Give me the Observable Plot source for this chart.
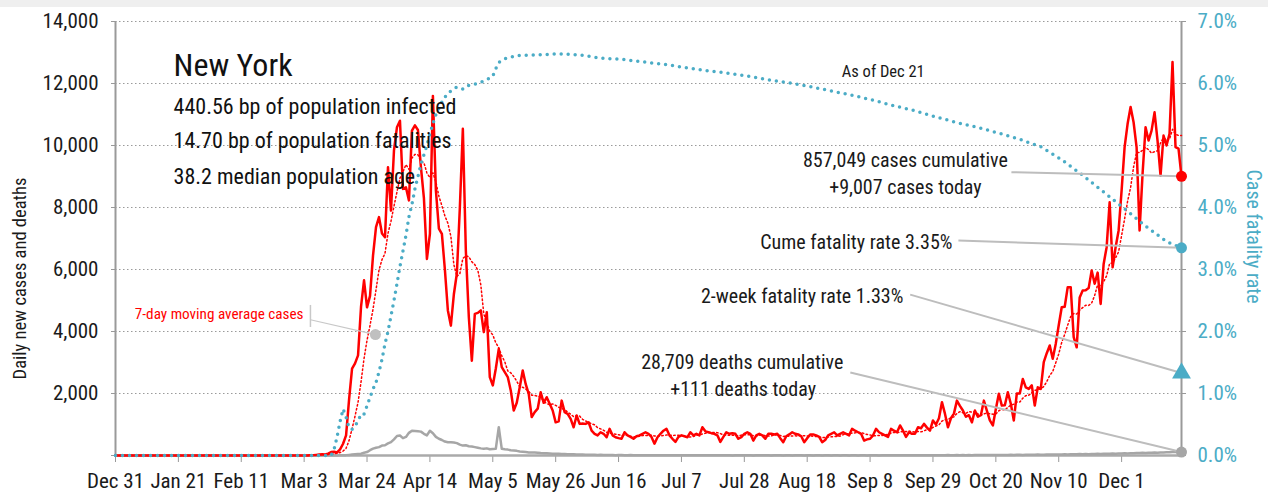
<!DOCTYPE html>
<html><head><meta charset="utf-8">
<script src="https://cdn.jsdelivr.net/npm/d3@7"></script>
<script src="https://cdn.jsdelivr.net/npm/@observablehq/plot@0.6"></script>
<style>
body{margin:0;background:#fff;}
#chart{position:relative;width:1268px;height:492px;}
#band{position:absolute;left:0;top:0;width:1268px;height:7px;background:#efefef;}
</style></head><body>
<div id="chart"></div><div id="band"></div>
<script>
// ---------- data ----------
const startDate = new Date(Date.UTC(2019, 11, 31));
const endDate = new Date(Date.UTC(2020, 11, 21));
const stateName = "New York";
const statLines = ["440.56 bp of population infected", "14.70 bp of population fatalities", "38.2 median population age"];
const cumulativeCases = 857049;
const cumulativeDeaths = 28709;
const cumeFatalityRate = 3.35;
const twoWeekFatalityRate = 1.33;

// daily new cases, one value per day from Dec 31
const dailyCases = [
0,0,0,0,0,0,0,0,0,0,
0,0,0,0,0,0,0,0,0,0,
0,0,0,0,0,0,0,0,0,0,
0,0,0,0,0,0,0,0,0,0,
0,0,0,0,0,0,0,0,0,0,
0,0,0,0,0,0,0,0,0,0,
0,0,1,0,2,10,12,20,30,40,
35,60,110,120,100,200,380,650,1800,2800,
2970,3230,4800,5650,4780,5150,6450,7370,7690,7160,
7040,9300,7900,9840,10590,10800,8600,8650,8230,10480,
10650,10500,9300,8300,6340,7150,11600,8550,7320,7150,
6000,4680,4190,5200,5870,8000,10540,6610,4460,3060,
4570,4600,4680,3980,4620,2530,2260,2800,3440,2850,
2690,2530,2100,1450,1700,2200,2740,2300,1990,1240,
1400,1510,2040,1700,1880,1670,1450,1070,1100,1770,
1400,1340,1180,910,1290,1020,1030,1020,1070,800,
700,650,750,700,590,860,650,590,560,540,
750,650,600,540,620,650,700,750,700,600,
380,590,700,800,860,650,540,440,600,650,
620,590,750,650,700,650,910,780,750,720,
700,650,440,600,750,700,720,700,540,590,
700,750,700,480,650,700,650,540,700,700,
680,700,560,430,620,680,750,700,680,620,
430,560,680,680,650,600,430,500,650,700,
750,650,700,750,700,650,860,800,750,700,
480,520,540,650,860,750,700,650,600,860,
800,750,970,800,600,750,700,700,910,880,
1020,900,800,1130,1000,1200,1720,1350,910,1200,
1350,1770,1600,1450,1250,1300,1070,1450,1250,1300,
1770,1450,1130,970,1500,1990,1610,1620,2040,1670,
1130,2000,2000,2470,2200,2150,2260,1610,2200,2150,
3010,3300,3550,3120,3600,4200,4780,4800,5430,5430,
3820,3490,5100,5320,5330,5400,5970,5540,5900,4890,
6180,6720,8170,6070,6720,7260,8550,9950,10700,11240,
10750,9950,7260,9090,10590,10160,10480,11070,10160,9030,
10320,10000,10380,12690,9950,9900,9007
];

// daily new deaths, one value per day from Dec 31
const dailyDeaths = [
0,0,0,0,0,0,0,0,0,0,
0,0,0,0,0,0,0,0,0,0,
0,0,0,0,0,0,0,0,0,0,
0,0,0,0,0,0,0,0,0,0,
0,0,0,0,0,0,0,0,0,0,
0,0,0,0,0,0,0,0,0,0,
0,0,0,0,0,0,0,0,0,0,
0,0,0,1,2,5,10,12,20,30,
40,50,60,90,110,170,220,250,270,320,
330,390,430,520,630,645,560,600,730,800,
790,780,770,700,650,800,720,600,540,500,
450,430,430,420,400,350,320,330,300,290,
270,250,230,215,230,200,210,215,910,215,
200,190,170,160,150,130,120,110,100,100,
95,90,80,75,70,65,60,55,55,50,
45,42,40,38,35,32,30,28,25,25,
22,20,22,18,15,17,14,12,15,13,
10,12,14,10,9,11,8,12,10,9,
7,8,10,7,9,6,8,10,7,6,
9,8,6,7,9,5,7,8,6,7,
5,6,8,5,7,6,4,7,5,6,
8,5,6,4,7,5,6,8,5,4,
6,5,7,4,6,5,3,6,5,7,
4,5,6,4,5,7,3,5,6,4,
5,6,4,5,7,3,5,6,4,5,
6,4,6,5,7,4,5,6,8,5,
6,7,5,6,8,9,6,7,8,10,
7,9,8,10,12,9,11,10,13,9,
12,14,11,13,12,15,10,14,16,13,
15,17,14,16,19,15,18,20,17,21,
19,22,25,20,24,27,23,26,30,25,
28,32,29,34,31,36,33,38,35,40,
37,42,45,40,48,44,50,47,53,49,
55,58,54,62,60,66,63,70,68,75,
72,80,78,85,82,90,88,95,92,100,
98,105,102,110,115,108,111
];

// case fatality rate (%), day offset from Dec 31
const cfrDays = [0,72,73,74,75,76,77,78,79,80,81,82,83,84,85,86,87,88,89,90,91,92,93,94,95,96,97,98,99,100,
101,102,103,104,105,106,107,108,109,110,111,112,113,114,115,116,117,118,120,122,124,126,127,128,130,134,
141,148,155,162,169,176,183,190,197,204,211,218,225,232,239,246,253,260,267,274,281,288,295,302,309,316,
323,330,337,344,351,356];
const cfrPct = [0,0,0.1,0.3,0.55,0.75,0.62,0.45,0.42,0.48,0.55,0.67,0.67,0.8,0.94,1.07,1.18,1.35,1.55,1.8,2.0,2.25,2.5,2.77,3.05,3.3,3.55,3.85,4.05,4.3,
4.5,4.7,4.85,5.0,5.19,5.35,5.5,5.6,5.7,5.78,5.84,5.88,5.92,5.94,5.92,5.91,5.93,5.97,5.99,6.02,6.06,6.12,6.24,6.34,6.4,6.45,
6.46,6.48,6.46,6.41,6.39,6.35,6.31,6.26,6.21,6.17,6.12,6.06,6.01,5.95,5.88,5.81,5.73,5.64,5.56,5.46,5.37,5.29,5.2,5.1,4.98,4.77,
4.52,4.25,3.98,3.7,3.45,3.35];

const yTicks = [0,2000,4000,6000,8000,10000,12000,14000];
const pctTicks = [0,1,2,3,4,5,6,7];

// ---------- setup ----------
const FF = "'Liberation Sans Narrow','Arial Narrow','Roboto Condensed','DejaVu Sans Condensed',sans-serif";
const teal = "#4bacc6";
const ink = "#1a1a1a";
const ratio = yTicks[yTicks.length-1] / pctTicks[pctTicks.length-1];
const day = n => new Date(+startDate + n * 864e5);
const cases = dailyCases.map((v, i) => ({date: day(i), v}));
const deaths = dailyDeaths.map((v, i) => ({date: day(i), v}));
const cfr = cfrDays.map((d, i) => ({date: day(d), v: cfrPct[i] * ratio}));
const last = dailyCases.length - 1;
const lastDate = day(last);
const lastCases = dailyCases[last];
const lastDeaths = dailyDeaths[last];
const fmt = d3.format(",");
const xTicks = d3.utcDay.range(startDate, d3.utcDay.offset(endDate, 1), 21);

const notesMiddle = [
  {t: fmt(cumulativeCases) + " cases cumulative", d: 263.8, v: 9516},
  {t: "+" + fmt(lastCases) + " cases today", d: 263.8, v: 8645},
  {t: fmt(cumulativeDeaths) + " deaths cumulative", d: 209.3, v: 2990},
  {t: "+" + fmt(lastDeaths) + " deaths today", d: 209.6, v: 2130}
];
const notesEnd = [
  {t: "Cume fatality rate " + cumeFatalityRate.toFixed(2) + "%", d: 279.5, v: 6880},
  {t: "2-week fatality rate " + twoWeekFatalityRate.toFixed(2) + "%", d: 263.1, v: 5129}
];
const asOfNote = {t: "As of " + d3.utcFormat("%b %-d")(endDate), d: 256.4, v: 12370};
const titleNote = {t: stateName, d: 19.4, v: 12580};
const statNotes = [
  {t: statLines[0], d: 19.4, v: 11258},
  {t: statLines[1], d: 19.4, v: 10161},
  {t: statLines[2], d: 19.4, v: 9000}
];
const maNote = {t: "7-day moving average cases", d: 62.8, v: 4550};
const maDot = {d: 86.8, v: 3900};
const leaders = [
  {d1: 299.2, v1: 9140, v2: lastCases},
  {d1: 281.5, v1: 6935, v2: cumeFatalityRate * ratio},
  {d1: 265.4, v1: 5190, v2: twoWeekFatalityRate * ratio},
  {d1: 245.4, v1: 2680, v2: lastDeaths}
].map(o => ({x1: day(o.d1), y1: o.v1, x2: lastDate, y2: o.v2}));

const xy = {x: d => day(d.d), y: "v", text: "t"};

const chart = Plot.plot({
  width: 1268, height: 492,
  marginLeft: 115, marginRight: 87, marginTop: 21, marginBottom: 37,
  style: {fontFamily: FF, fontSize: "21px", background: "transparent", color: ink, overflow: "visible"},
  x: {type: "utc", domain: [startDate, endDate]},
  y: {domain: [yTicks[0], yTicks[yTicks.length-1]]},
  marks: [
    Plot.gridY(yTicks.slice(1), {stroke: "#9a9a9a", strokeOpacity: 1, strokeWidth: 1, strokeDasharray: "1.5,2.5"}),
    Plot.axisY(yTicks, {anchor: "left", tickSize: 4, tickPadding: 13, stroke: "#999", fill: ink, fontSize: 21,
      tickFormat: d => d === 0 ? "" : fmt(d), label: null}),
    Plot.axisY(pctTicks.map(p => p * ratio), {anchor: "right", tickSize: 4, tickPadding: 12, stroke: "#999", fill: teal, fontSize: 21,
      tickFormat: d => (d / ratio).toFixed(1) + "%", label: null}),
    Plot.axisX(xTicks, {tickSize: 7, tickPadding: 11, stroke: "#999", fill: ink, fontSize: 21,
      tickFormat: d3.utcFormat("%b %-d"), label: null}),
    Plot.ruleX([startDate, endDate], {stroke: "#9a9a9a", strokeWidth: 2}),
    Plot.ruleY([0], {stroke: "#aaaaaa", strokeWidth: 2.5}),
    Plot.text(["Daily new cases and deaths"], {text: d => d, frameAnchor: "left", textAnchor: "middle", dx: -95, dy: 40, rotate: -90, fontSize: 18.5, fill: ink}),
    Plot.text(["Case fatality rate"], {text: d => d, frameAnchor: "right", textAnchor: "middle", dx: 72, dy: -2, rotate: 90, fontSize: 20, fill: teal}),
    // series
    Plot.lineY(deaths, {x: "date", y: "v", stroke: "#a6a6a6", strokeWidth: 2.5}),
    Plot.lineY(cases, Plot.windowY({k: 7, anchor: "end"}, {x: "date", y: "v", stroke: "#ff0000", strokeWidth: 1.5, strokeDasharray: "1.5,2.5"})),
    Plot.lineY(cases, {x: "date", y: "v", stroke: "#ff0000", strokeWidth: 2.5}),
    Plot.lineY(cfr, {x: "date", y: "v", stroke: teal, strokeWidth: 3.5, strokeDasharray: "0,7", strokeLinecap: "round"}),
    // annotations
    Plot.link(leaders, {x1: "x1", y1: "y1", x2: "x2", y2: "y2", stroke: "#bdbdbd", strokeWidth: 2}),
    Plot.ruleX([maNote], {x: () => day(65.1), y1: () => 4130, y2: () => 4840, stroke: "#c8c8c8", strokeWidth: 1.5}),
    Plot.link([maNote], {x1: () => day(65.1), y1: () => 4380, x2: () => day(maDot.d), y2: () => maDot.v, stroke: "#c8c8c8", strokeWidth: 1.2}),
    Plot.dot([maDot], {x: d => day(d.d), y: "v", r: 5.5, fill: "#c0c0c0"}),
    Plot.text([maNote], {...xy, textAnchor: "end", fill: "#ff0000", fontSize: 15.2}),
    Plot.dot([{v: lastCases}], {x: () => lastDate, y: "v", r: 5.5, fill: "#ff0000"}),
    Plot.dot([{v: cumeFatalityRate * ratio}], {x: () => lastDate, y: "v", r: 5.5, fill: teal}),
    Plot.dot([{v: twoWeekFatalityRate * ratio}], {x: () => lastDate, y: "v", r: 7, symbol: "triangle", fill: teal}),
    Plot.dot([{v: lastDeaths}], {x: () => lastDate, y: "v", r: 5.5, fill: "#a6a6a6"}),
    Plot.text(notesMiddle, {...xy, textAnchor: "middle", fontSize: 20, fill: ink}),
    Plot.text(notesEnd, {...xy, textAnchor: "end", fontSize: 20, fill: ink}),
    Plot.text([asOfNote], {...xy, textAnchor: "middle", fontSize: 16.5, fill: ink}),
    Plot.text([titleNote], {...xy, textAnchor: "start", fontSize: 32, fill: "#111"}),
    Plot.text(statNotes, {...xy, textAnchor: "start", fontSize: 22, fill: "#111"})
  ]
});
document.getElementById("chart").appendChild(chart);
</script></body></html>
